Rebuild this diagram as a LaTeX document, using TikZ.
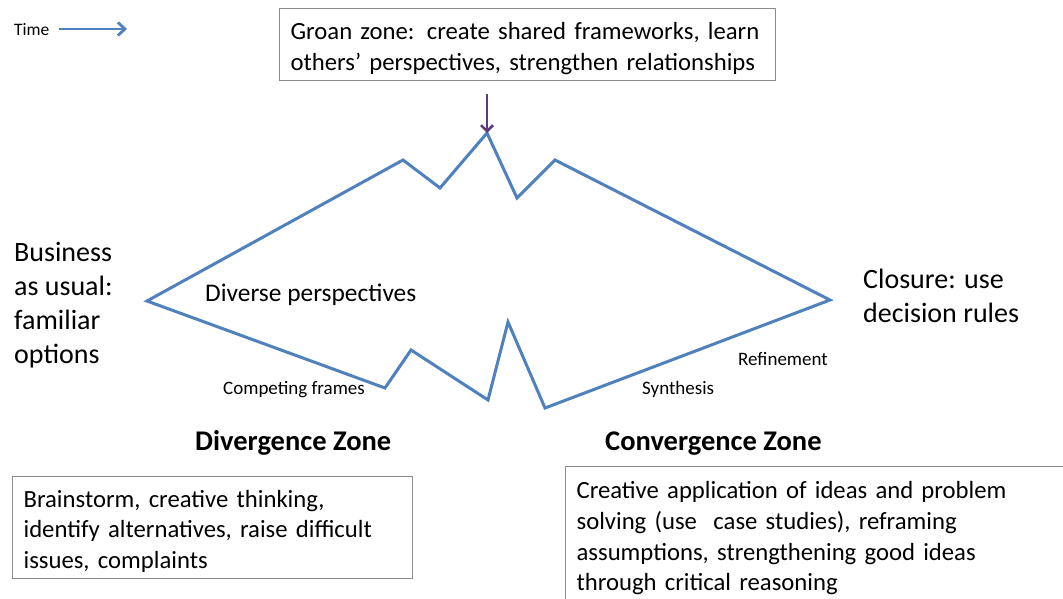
\documentclass[tikz,border=0pt]{standalone}
\usepackage{fontspec}
\setmainfont{Carlito}
\usetikzlibrary{arrows.meta}
\definecolor{zoneblue}{HTML}{4F81BD}
\definecolor{groanpurple}{HTML}{5E3C78}
\definecolor{boxgray}{HTML}{8C8C8C}
\newcommand{\boxlift}{\rule{0pt}{24.5pt}}
\tikzset{
  lbl/.style={inner sep=0pt, anchor=base west, align=left},
  infobox/.style={draw=boxgray, line width=1.2pt, anchor=north west, inner xsep=11pt, inner ysep=0pt, align=left},
  boxfont/.style={font=\fontsize{24.7}{30.7}\selectfont},
  zoneline/.style={draw=zoneblue, line width=3pt, line join=miter},
}
\begin{document}
\begin{tikzpicture}[x=1pt,y=-1pt]
\clip (0,0) rectangle (1063,599);
\fill[white] (0,0) rectangle (1063,599);

% time arrow
\node[lbl, font=\fontsize{17.5}{20}\selectfont] (time) at (14,36) {Time};
\coordinate (timeA) at (59,29);
\coordinate (timeB) at (127,29);
\draw[zoneblue, line width=2.8pt, -{Straight Barb[length=7pt,width=13pt]}] (timeA) -- (timeB);

% groan box
\node[infobox, boxfont, minimum width=496pt, minimum height=72pt, text width=474pt] (groan) at (279,8)
 {\boxlift Groan zone: create shared frameworks, learn\\others' perspectives, strengthen relationships};

% zone polygon
\coordinate (L) at (147,301);
\coordinate (t1) at (403,160);
\coordinate (t2) at (440,188);
\coordinate (top) at (487,133);
\coordinate (t4) at (517,198);
\coordinate (t5) at (555,160);
\coordinate (R) at (830,300);
\coordinate (b1) at (545,408);
\coordinate (b2) at (508,322);
\coordinate (b3) at (488,400);
\coordinate (b4) at (411,350);
\coordinate (b5) at (385,388);
\draw[zoneline] (L) -- (t1) -- (t2) -- (top) -- (t4) -- (t5) -- (R) -- (b1) -- (b2) -- (b3) -- (b4) -- (b5) -- cycle;

% groan arrow
\coordinate (gstart) at (487,94);
\draw[groanpurple, line width=2.5pt, -{Straight Barb[length=6pt,width=12pt]}] (gstart) -- (top);

% labels
\node[lbl, font=\fontsize{28}{34}\selectfont] (bau) at (14,363)
 {Business\\as usual:\\familiar\\options};
\node[lbl, font=\fontsize{28}{34}\selectfont] (closure) at (863,322)
 {Closure: use\\decision rules};
\node[lbl, font=\fontsize{25.4}{28}\selectfont] (diverse) at (205,301) {Diverse perspectives};
\node[lbl, font=\fontsize{19}{22}\selectfont] (compete) at (223,394) {Competing frames};
\node[lbl, font=\fontsize{19}{22}\selectfont] (refine) at (738,365) {Refinement};
\node[lbl, font=\fontsize{19}{22}\selectfont] (synth) at (642,394) {Synthesis};
\node[lbl, font=\bfseries\fontsize{28.5}{32}\selectfont] (divz) at (195,450) {Divergence Zone};
\node[lbl, font=\bfseries\fontsize{28.5}{32}\selectfont] (conz) at (605,450) {Convergence Zone};

% bottom boxes
\node[infobox, boxfont, minimum width=400pt, minimum height=102pt, text width=378pt] (divbox) at (12,476)
 {\boxlift Brainstorm, creative thinking,\\identify alternatives, raise difficult\\issues, complaints};
\node[infobox, boxfont, minimum width=500pt, text width=478pt, inner ysep=15pt] (conbox) at (565,466)
 {Creative application of ideas and problem\\solving (use\ \ case studies), reframing\\assumptions, strengthening good ideas\\through critical reasoning};
\end{tikzpicture}
\end{document}
